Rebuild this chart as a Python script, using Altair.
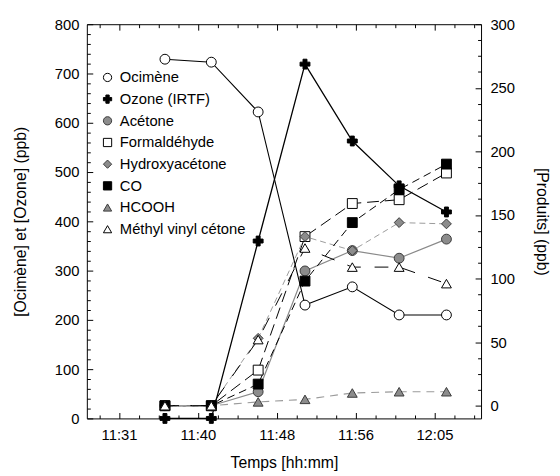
import altair as alt
import pandas as pd

# ---------------- data ----------------
times = [35.95, 40.95, 46.0, 51.05, 56.15, 61.2, 66.3]   # minutes after 11:00
names = ["Ocimène", "Ozone (IRTF)", "Acétone", "Formaldéhyde",
         "Hydroxyacétone", "CO", "HCOOH", "Méthyl vinyl cétone"]
ocimene = [729, 723, 622, 230, 267, 210, 210]
ozone = [0, 0, 360, 719, 563, 472, 419]
acetone = [0, 0, 11, 106, 122, 116, 131]
formaldehyde = [0, 0, 28, 133, 159, 162, 183]
hydroxyacetone = [0, 0, 53, 133, 122, 144, 143]
co = [0, 0, 17, 98, 144, 170, 190]
hcooh = [0, 0, 3, 5, 10, 11, 11]
mvk = [0, 0, 52, 124, 109, 109, 96]

x_major = [31, 39.5, 48, 56.5, 65]
x_labels = ["11:31", "11:40", "11:48", "11:56", "12:05"]
left_major = [0, 100, 200, 300, 400, 500, 600, 700, 800]
right_major = [0, 50, 100, 150, 200, 250, 300]

series = dict(zip(names, [ocimene, ozone, acetone, formaldehyde,
                          hydroxyacetone, co, hcooh, mvk]))
left_names = names[:2]
right_names = names[2:]

rows = [{"t": t, "v": v, "s": n} for n in names for t, v in zip(times, series[n])]
df = pd.DataFrame(rows)

# ---------------- styles ----------------
FONT = "Liberation Sans"
shapes = ["circle", "cross", "circle", "square", "diamond", "square", "triangle-up", "triangle-up"]
fills = ["white", "black", "#8c8c8c", "white", "#8c8c8c", "black", "#8c8c8c", "white"]
strokes = ["black", "black", "#3a3a3a", "black", "#3a3a3a", "black", "#3a3a3a", "black"]

line_styles = {
    "Ocimène": dict(color="black", strokeWidth=1.1),
    "Ozone (IRTF)": dict(color="black", strokeWidth=1.3),
    "Acétone": dict(color="#8a8a8a", strokeWidth=1.2),
    "Formaldéhyde": dict(color="black", strokeWidth=1, strokeDash=[12, 6]),
    "Hydroxyacétone": dict(color="#9a9a9a", strokeWidth=1, strokeDash=[6, 4]),
    "CO": dict(color="black", strokeWidth=1, strokeDash=[8, 5]),
    "HCOOH": dict(color="#9a9a9a", strokeWidth=1.2, strokeDash=[8, 6]),
    "Méthyl vinyl cétone": dict(color="black", strokeWidth=1, strokeDash=[14, 14]),
}

XS = alt.Scale(domain=[27.53, 70.03], nice=False, zero=False)
YL = alt.Scale(domain=[0, 800], nice=False, zero=False)
YR = alt.Scale(domain=[-10, 300], nice=False, zero=False)

x_minor = [31 + 2.125 * k for k in range(-1, 19) if k % 4 != 0]
left_minor = [v for v in range(0, 801, 20) if v % 100 != 0]
right_minor = [v * 12.5 for v in range(0, 25) if v % 4 != 0]

MAJ, MIN = 6, 3.5


def tick_axis(orient, values, size):
    return alt.Axis(orient=orient, values=values, tickSize=size, offset=-size,
                    labels=False, title=None, domain=False, grid=False,
                    ticks=True, tickColor="black", tickWidth=1)


label_expr = "[" + ",".join("'%s'" % l for l in x_labels) + "][round((datum.value - 31) / 8.5)]"

ax_bottom_labels = alt.Axis(orient="bottom", values=x_major, labelExpr=label_expr,
                            ticks=False, tickSize=0, labelPadding=9, domain=False,
                            title="Temps [hh:mm]", titlePadding=13)
ax_left_labels = alt.Axis(orient="left", values=left_major, ticks=False, tickSize=0,
                          labelPadding=8, domain=False,
                          title="[Ocimène] et [Ozone] (ppb)", titlePadding=26)
ax_right_labels = alt.Axis(orient="right", values=right_major, ticks=False, tickSize=0,
                           labelPadding=9, domain=False,
                           title="[Produits] (ppb)", titlePadding=19)

axes_plan = {
    "Ocimène": (ax_bottom_labels, ax_left_labels),
    "Ozone (IRTF)": (tick_axis("bottom", x_major, MAJ), tick_axis("left", left_major, MAJ)),
    "Acétone": (tick_axis("top", x_major, MAJ), ax_right_labels),
    "Formaldéhyde": (tick_axis("top", x_minor, MIN), tick_axis("right", right_major, MAJ)),
    "Hydroxyacétone": (tick_axis("bottom", x_minor, MIN), tick_axis("right", right_minor, MIN)),
}

legend = alt.Legend(title=None, orient="none", legendX=13.5, legendY=46.5)

layers = []
for n in right_names + left_names:
    xa, ya = axes_plan.get(n, (None, None))
    ys = YL if n in left_names else YR
    layers.append(
        alt.Chart(df[df.s == n]).mark_line(**line_styles[n]).encode(
            x=alt.X("t:Q", scale=XS, axis=xa),
            y=alt.Y("v:Q", scale=ys, axis=ya),
        )
    )


def points(sub, ys, yaxis):
    return alt.Chart(sub).mark_point(opacity=1, strokeWidth=1, size=100).encode(
        x=alt.X("t:Q", scale=XS, axis=None),
        y=alt.Y("v:Q", scale=ys, axis=yaxis),
        shape=alt.Shape("s:N", scale=alt.Scale(domain=names, range=shapes), legend=legend),
        fill=alt.Fill("s:N", scale=alt.Scale(domain=names, range=fills), legend=legend),
        stroke=alt.Stroke("s:N", scale=alt.Scale(domain=names, range=strokes), legend=legend),
    )


layers.append(points(df[df.s.isin(right_names)], YR, None))
layers.append(points(df[df.s.isin(left_names)], YL, tick_axis("left", left_minor, MIN)))

chart = (
    alt.layer(*layers)
    .resolve_scale(y="independent")
    .resolve_axis(x="independent", y="independent")
    .properties(width=400, height=400,
                padding={"left": 80, "top": 13, "right": 72, "bottom": 58},
                autosize=alt.AutoSizeParams(type="none"))
    .configure_view(stroke="black", strokeWidth=1)
    .configure_axis(labelFont=FONT, titleFont=FONT, labelFontSize=15, titleFontSize=16,
                    titleFontWeight="normal", labelColor="black", titleColor="black",
                    grid=False)
    .configure_legend(symbolOpacity=1, symbolSize=70, symbolStrokeWidth=1,
                      labelFont=FONT, labelFontSize=15, labelColor="black",
                      rowPadding=6, labelOffset=5, padding=0)
)

chart.save("out.html", embed_options={"renderer": "svg", "actions": False})
